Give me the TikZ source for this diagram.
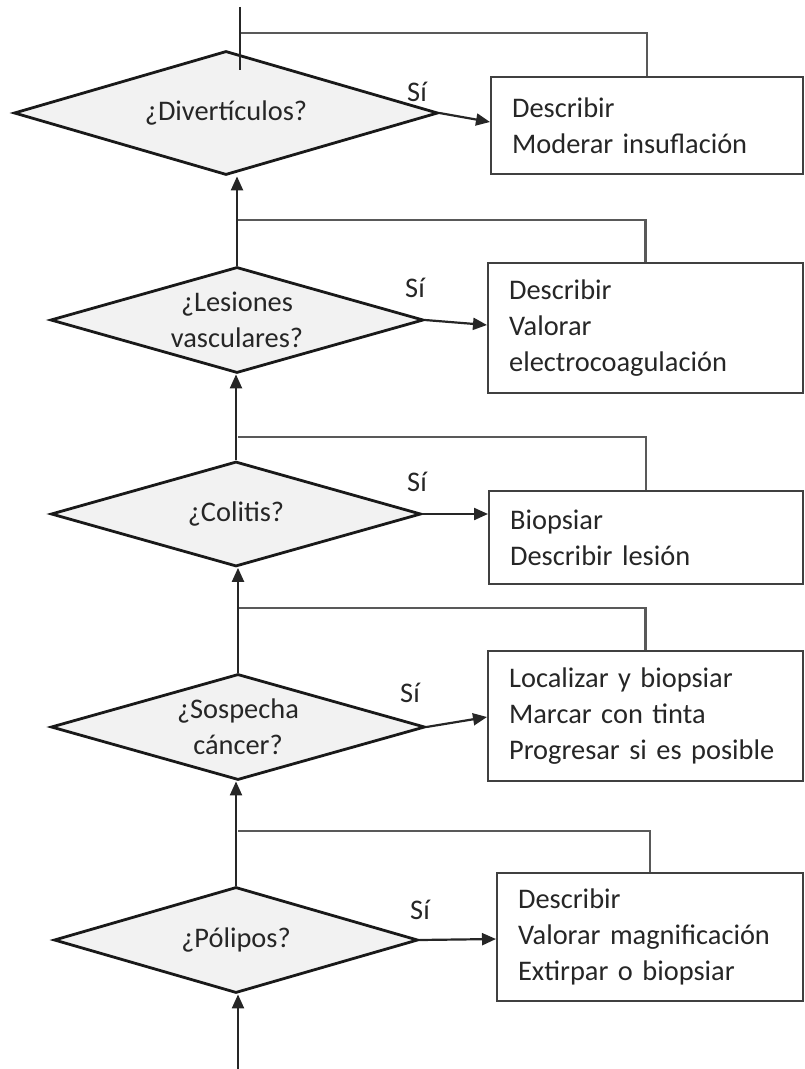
\documentclass[tikz,border=0pt]{standalone}
\usepackage{fontspec}
\setmainfont[WordSpace=0.8]{Carlito}
\usetikzlibrary{shapes.geometric,arrows.meta}
\begin{document}
\begin{tikzpicture}[x=0.5pt,y=-0.5pt,
  every node/.style={font=\fontsize{14.2pt}{18pt}\selectfont, text=black!85},
  decision/.style={diamond, draw=black!90, line width=1.4pt, fill=black!5,
    inner sep=0pt, aspect=3.5, align=center},
  action/.style={rectangle, draw=black!75, line width=1.1pt, anchor=north west,
    inner xsep=10.5pt, inner ysep=0pt, align=left},
  flow/.style={draw=black!85, line width=1.1pt, -{Triangle[length=7pt,width=6pt]}},
  loop/.style={draw=black!65, line width=1.3pt},
  yes/.style={inner sep=0pt}
]
\useasboundingbox (0,0) rectangle (804,1069);

% decisions, top to bottom
\node[decision, minimum width=212pt, minimum height=62pt] (d1) at (226,113) {¿Divertículos?};
\node[decision, minimum width=186.5pt, minimum height=53pt] (d2) at (237,320) {¿Lesiones\\vasculares?};
\node[decision, minimum width=185pt, minimum height=52.5pt] (d3) at (236,514) {¿Colitis?};
\node[decision, minimum width=187pt, minimum height=53pt] (d4) at (238,727) {¿Sospecha\\cáncer?};
\node[decision, minimum width=182pt, minimum height=53pt] (d5) at (236,940) {¿Pólipos?};

% actions
\node[action, minimum width=156pt, minimum height=48.5pt, text width=135pt] (b1) at (490,76)
  {Describir\\Moderar insuflación};
\node[action, minimum width=157.5pt, minimum height=65pt, text width=136.5pt] (b2) at (487,262)
  {Describir\\Valorar\\electrocoagulación};
\node[action, minimum width=157pt, minimum height=46.5pt, text width=136pt] (b3) at (488,490)
  {Biopsiar\\Describir lesión};
\node[action, minimum width=157.5pt, minimum height=65pt, text width=136.5pt] (b4) at (487,650)
  {Localizar y biopsiar\\Marcar con tinta\\Progresar si es posible};
\node[action, minimum width=153pt, minimum height=64pt, text width=132pt] (b5) at (496,872)
  {Describir\\Valorar magnificación\\Extirpar o biopsiar};

% "Sí" labels
\node[yes] (s1) at (417,92) {Sí};
\node[yes] (s2) at (415,288) {Sí};
\node[yes] (s3) at (417,482) {Sí};
\node[yes] (s4) at (410,693) {Sí};
\node[yes] (s5) at (420,910) {Sí};

% main line and its ends
\coordinate (top) at (240,7);
\coordinate (topend) at (240,70);
\coordinate (bottom) at (238,1069);

% branch points for the return lines
\coordinate (j1) at (240,33);
\coordinate (j2) at (238,220);
\coordinate (j3) at (238,437);
\coordinate (j4) at (238,608);
\coordinate (j5) at (238,831);

% return lines from the action boxes to the main line
\draw[loop] (j1) -| (b1.north);
\draw[loop] (j2) -| (b2.north);
\draw[loop] (j3) -| (b3.north);
\draw[loop] (j4) -| (b4.north);
\draw[loop] (j5) -| (b5.north);

% upward flow
\draw[loop, draw=black!85] (top) -- (topend);
\draw[flow] (d2.north) -- (d2.north |- d1.south);
\draw[flow] (d3.north) -- (d3.north |- d2.south);
\draw[flow] (d4.north) -- (d4.north |- d3.south);
\draw[flow] (d5.north) -- (d5.north |- d4.south);
\draw[flow] (bottom) -- (bottom |- d5.south);

% "Sí" branches
\draw[flow] (d1.east) -- (b1.west |- 0,122);
\draw[flow] (d2.east) -- (b2.west |- 0,325);
\draw[flow] (d3.east) -- (b3.west |- 0,514);
\draw[flow] (d4.east) -- (b4.west |- 0,717);
\draw[flow] (d5.east) -- (b5.west |- 0,939);
\end{tikzpicture}
\end{document}
